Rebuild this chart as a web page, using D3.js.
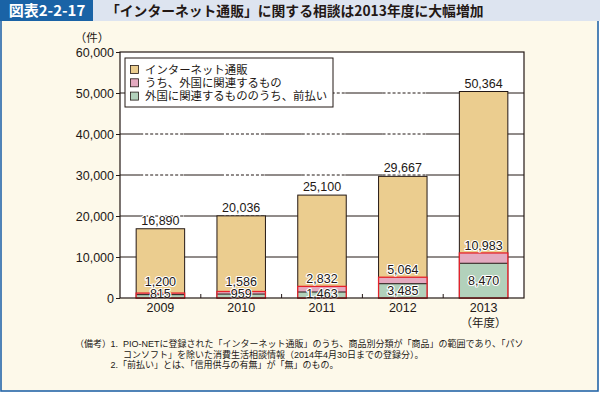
<!DOCTYPE html>
<html>
<head>
<meta charset="utf-8">
<script src="https://cdn.jsdelivr.net/npm/d3@7"></script>
<style>
  body { margin: 0; background: #fff; }
  svg text { font-family: "Liberation Sans", "Noto Sans CJK JP", sans-serif; fill: #231815; }
  .jp { font-family: "Noto Sans CJK JP", sans-serif; }
</style>
</head>
<body>
<svg id="chart" width="600" height="395"></svg>
<script>
// data
var years = ['2009', '2010', '2011', '2012', '2013'];
var totals = [16890, 20036, 25100, 29667, 50364];      // インターネット通販
var foreign = [1200, 1586, 2832, 5064, 10983];         // うち、外国に関連するもの
var prepaid = [815, 959, 1463, 3485, 8470];            // 外国に関連するもののうち、前払い
var yTicks = [0, 10000, 20000, 30000, 40000, 50000, 60000];
var legendLabels = ['インターネット通販', 'うち、外国に関連するもの', '外国に関連するもののうち、前払い'];
var notes = [
    '1.',
    'PIO-NETに登録された「インターネット通販」のうち、商品別分類が「商品」の範囲であり、「パソ',
    'コンソフト」を除いた消費生活相談情報（2014年4月30日までの登録分）。',
    '2.「前払い」とは、「信用供与の有無」が「無」のもの。'
];

var colors = { total: '#ebcd8f', foreign: '#e4aac0', prepaid: '#b2d1bb', red: '#e5222b', ink: '#231815' };

var svg = d3.select('#chart');

// panel + header
svg.append('rect').attr('x', 1).attr('y', 20).attr('width', 597).attr('height', 371)
    .attr('fill', '#fdf9ea').attr('stroke', '#2566a8').attr('stroke-width', 1.6);
svg.append('rect').attr('x', 0).attr('y', 0).attr('width', 600).attr('height', 21).attr('fill', '#dde4f0');
svg.append('rect').attr('x', 0).attr('y', 0).attr('width', 93).attr('height', 21).attr('fill', '#1a63a6');
svg.append('text').attr('class', 'jp').attr('x', 47).attr('y', 15.5).attr('text-anchor', 'middle')
    .style('fill', '#fff').style('font-size', '15px').style('font-weight', 'bold')
    .text('図表2-2-17');
svg.append('text').attr('class', 'jp').attr('x', 106).attr('y', 16)
    .style('font-size', '13.8px').style('font-weight', 'bold')
    .text('「インターネット通販」に関する相談は2013年度に大幅増加');

// scales
var x = d3.scaleBand().domain(years).range([120, 524]).paddingInner(0.4).paddingOuter(0.2);
var y = d3.scaleLinear().domain([0, 60000]).range([298, 52]);

var plot = svg.append('g');

plot.append('rect').attr('x', 120).attr('y', y(60000)).attr('width', 404).attr('height', y(0) - y(60000))
    .attr('fill', '#fff');

// gridlines: solid in the gaps, dashed over the bar columns
var grid = plot.append('g');
yTicks.slice(1, -1).forEach(function (t) {
    grid.append('line').attr('x1', 120).attr('x2', 524).attr('y1', y(t)).attr('y2', y(t))
        .attr('stroke', colors.ink).attr('stroke-width', 1);
    years.forEach(function (yr) {
        var x0 = x(yr) + 4, x1 = x(yr) + x.bandwidth() - 1;
        grid.append('line').attr('x1', x0).attr('x2', x1).attr('y1', y(t)).attr('y2', y(t))
            .attr('stroke', '#fff').attr('stroke-width', 2);
        grid.append('line').attr('x1', x0).attr('x2', x1).attr('y1', y(t)).attr('y2', y(t))
            .attr('stroke', colors.ink).attr('stroke-width', 1).attr('stroke-dasharray', '3,2');
    });
});

// bars
var bars = plot.selectAll('g.bar').data(years).enter().append('g').attr('class', 'bar');

bars.append('rect')
    .attr('x', function (d) { return x(d); })
    .attr('y', function (d, i) { return y(totals[i]); })
    .attr('width', x.bandwidth())
    .attr('height', function (d, i) { return y(0) - y(totals[i]); })
    .attr('fill', colors.total).attr('stroke', colors.ink).attr('stroke-width', 1);

bars.append('rect')
    .attr('x', function (d) { return x(d); })
    .attr('y', function (d, i) { return y(foreign[i]); })
    .attr('width', x.bandwidth())
    .attr('height', function (d, i) { return y(0) - y(foreign[i]); })
    .attr('fill', colors.foreign);

bars.append('rect')
    .attr('x', function (d) { return x(d); })
    .attr('y', function (d, i) { return y(prepaid[i]); })
    .attr('width', x.bandwidth())
    .attr('height', function (d, i) { return y(0) - y(prepaid[i]); })
    .attr('fill', colors.prepaid);

bars.append('line')
    .attr('x1', function (d) { return x(d); })
    .attr('x2', function (d) { return x(d) + x.bandwidth(); })
    .attr('y1', function (d, i) { return y(prepaid[i]); })
    .attr('y2', function (d, i) { return y(prepaid[i]); })
    .attr('stroke', colors.ink).attr('stroke-width', 1);

bars.append('rect')
    .attr('x', function (d) { return x(d); })
    .attr('y', function (d, i) { return y(foreign[i]); })
    .attr('width', x.bandwidth())
    .attr('height', function (d, i) { return y(0) - y(foreign[i]); })
    .attr('fill', 'none').attr('stroke', colors.red).attr('stroke-width', 1.3);

// plot frame
plot.append('rect').attr('x', 120).attr('y', y(60000)).attr('width', 404).attr('height', y(0) - y(60000))
    .attr('fill', 'none').attr('stroke', colors.ink).attr('stroke-width', 1.2);

// y axis
var yAxis = plot.append('g').attr('transform', 'translate(120,0)')
    .call(d3.axisLeft(y).tickValues(yTicks).tickSize(4).tickFormat(d3.format(',')));
yAxis.select('.domain').remove();
yAxis.selectAll('line').attr('stroke', colors.ink);
yAxis.selectAll('text').attr('x', -6).style('font-size', '12.5px')
    .style('font-family', '"Liberation Sans", sans-serif').attr('fill', colors.ink);

// x axis: short inward ticks at band boundaries
var bounds = years.slice(1).map(function (d) { return x(d) - x.step() * x.paddingInner() / 2; });
plot.selectAll('line.xtick').data(bounds).enter().append('line').attr('class', 'xtick')
    .attr('x1', function (d) { return d; }).attr('x2', function (d) { return d; })
    .attr('y1', y(0)).attr('y2', y(0) - 4)
    .attr('stroke', colors.ink).attr('stroke-width', 1);

var xAxis = plot.append('g').attr('transform', 'translate(0,' + y(0) + ')')
    .call(d3.axisBottom(x).tickSize(0).tickPadding(5));
xAxis.select('.domain').remove();
xAxis.selectAll('text').style('font-size', '12.5px').attr('fill', colors.ink);

svg.append('text').attr('class', 'jp').attr('x', x('2013') + x.bandwidth() / 2).attr('y', 327)
    .attr('text-anchor', 'middle').style('font-size', '11.5px').text('（年度）');
svg.append('text').attr('class', 'jp').attr('x', 92).attr('y', 42)
    .attr('text-anchor', 'middle').style('font-size', '11.5px').text('（件）');

// value labels
function label(sel, xf, yf, tf) {
    sel.append('text')
        .attr('x', xf).attr('y', yf).attr('dy', '0.36em')
        .attr('text-anchor', 'middle')
        .style('font-size', '12.5px')
        .style('stroke', '#fff').style('stroke-width', 2.2).style('paint-order', 'stroke')
        .style('stroke-linejoin', 'round')
        .text(tf);
}
var cx = function (d) { return x(d) + x.bandwidth() / 2; };
label(bars, cx, function (d, i) { return y(totals[i]) - 8.5; }, function (d, i) { return d3.format(',')(totals[i]); });
label(bars, cx, function (d, i) { return Math.min(y(foreign[i]) - 7.5, 281); }, function (d, i) { return d3.format(',')(foreign[i]); });
label(bars, cx, function (d, i) { return Math.min((y(0) + y(prepaid[i])) / 2, y(0) - 4.5); }, function (d, i) { return d3.format(',')(prepaid[i]); });

// legend
var legend = svg.append('g');
legend.append('rect').attr('x', 125).attr('y', 58).attr('width', 208).attr('height', 49)
    .attr('fill', '#fff').attr('stroke', colors.ink).attr('stroke-width', 1);
var legendColors = [colors.total, colors.foreign, colors.prepaid];
legendLabels.forEach(function (lab, i) {
    var cy = 69.5 + i * 13.3;
    legend.append('rect').attr('x', 130.5).attr('y', cy - 4).attr('width', 8).attr('height', 8)
        .attr('fill', legendColors[i]).attr('stroke', colors.ink).attr('stroke-width', 0.8);
    legend.append('text').attr('class', 'jp').attr('x', 145).attr('y', cy).attr('dy', '0.36em')
        .style('font-size', '11.4px').text(lab);
});

// notes
var nt = svg.append('g').attr('class', 'jp').style('font-size', '9px');
nt.append('text').attr('x', 75).attr('y', 346.5).text('（備考）');
nt.append('text').attr('x', 110.5).attr('y', 346.5).style('font-family', '"Liberation Sans", sans-serif').text(notes[0]);
nt.append('text').attr('x', 123).attr('y', 346.5).text(notes[1]);
nt.append('text').attr('x', 123).attr('y', 357.5).text(notes[2]);
nt.append('text').attr('x', 110.5).attr('y', 368).text(notes[3]);
</script>
</body>
</html>
